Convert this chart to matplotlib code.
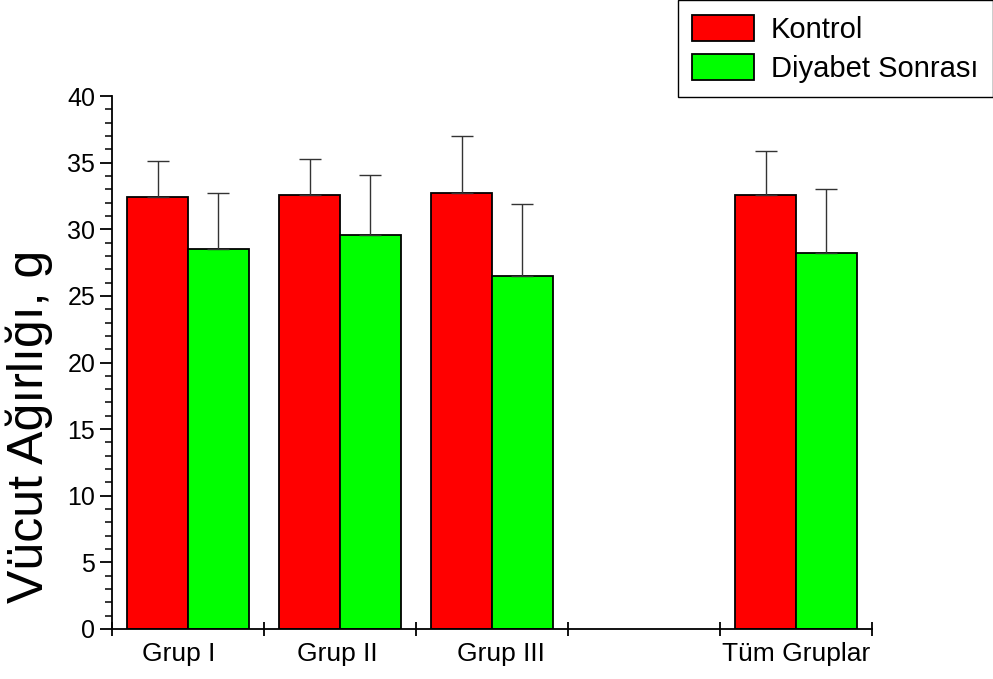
import matplotlib.pyplot as plt
import numpy as np
from matplotlib.ticker import MultipleLocator, FixedLocator

plt.rcParams['font.family'] = ['Liberation Sans', 'DejaVu Sans']

# veriler
gruplar = ['Grup I', 'Grup II', 'Grup III', 'Tüm Gruplar']
grup_yeri = [0.5, 1.5, 2.5, 4.5]  # Grup III ile Tüm Gruplar arasında boş bir yuva var
etiket_yeri = [0.44, 1.48, 2.56, 4.5]
kontrol = [32.4, 32.6, 32.7, 32.6]
kontrol_sd = [2.7, 2.7, 4.3, 3.3]
diyabet = [28.5, 29.6, 26.5, 28.2]
diyabet_sd = [4.2, 4.5, 5.4, 4.8]

fig = plt.figure(figsize=(9.93, 6.79), dpi=100)
ax = fig.add_axes([112 / 993, 50 / 679, 760 / 993, 533 / 679])

x = np.array(grup_yeri)
w = 0.4
hata = dict(ecolor='#333333', elinewidth=1, capsize=8, capthick=1)
ax.bar(x - w / 2, kontrol, w, color='#ff0000', edgecolor='black', linewidth=1.3,
       yerr=[np.zeros(len(kontrol)), kontrol_sd], error_kw=hata, label='Kontrol')
ax.bar(x + w / 2, diyabet, w, color='#00ff00', edgecolor='black', linewidth=1.3,
       yerr=[np.zeros(len(diyabet)), diyabet_sd], error_kw=hata, label='Diyabet Sonrası')

ax.set_xlim(0, 5)
ax.set_ylim(0, 40)
for s in ['top', 'right']:
    ax.spines[s].set_visible(False)
for s in ['left', 'bottom']:
    ax.spines[s].set_linewidth(1.3)

ax.yaxis.set_major_locator(MultipleLocator(5))
ax.yaxis.set_minor_locator(MultipleLocator(1))
ax.tick_params(axis='y', which='major', direction='out', length=9, width=1.3, labelsize=18, pad=3)
ax.tick_params(axis='y', which='minor', direction='out', length=5, width=1.1)

ax.xaxis.set_major_locator(FixedLocator(range(6)))
ax.xaxis.set_minor_locator(FixedLocator(etiket_yeri))
ax.set_xticklabels([], minor=False)
ax.set_xticklabels(gruplar, minor=True)
ax.tick_params(axis='x', which='major', direction='inout', length=10, width=1.3)
ax.tick_params(axis='x', which='minor', length=0, labelsize=19, pad=9)

ax.set_ylabel('Vücut Ağırlığı, g', fontsize=36)
ax.yaxis.set_label_coords(-0.078, 0.38)

leg = fig.legend(loc='upper right', bbox_to_anchor=(1.0, 1.0), fontsize=21,
                 frameon=True, fancybox=False, edgecolor='black', framealpha=1,
                 handlelength=2.1, handleheight=1.0, handletextpad=0.6,
                 borderpad=0.5, labelspacing=0.35, borderaxespad=0.0)
leg.get_frame().set_linewidth(1.0)

fig.savefig('out.png', dpi=100)
